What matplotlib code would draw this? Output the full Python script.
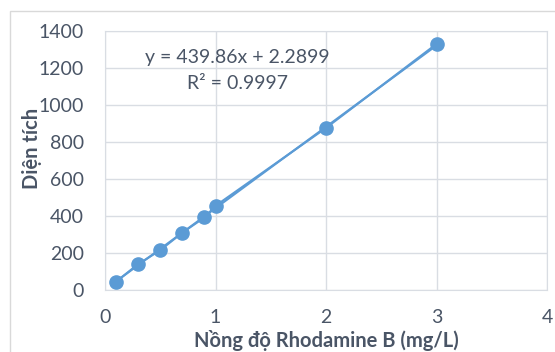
import numpy as np
import matplotlib.pyplot as plt
from matplotlib.patches import Rectangle

# calibration data: Rhodamine B concentration (mg/L) vs peak area
conc = [0.1, 0.3, 0.5, 0.7, 0.9, 1.0, 2.0, 3.0]
area = [45, 140, 215, 310, 392, 455, 876, 1330]

slope = 439.86
intercept = 2.2899
r2 = 0.9997

xticks = [0, 1, 2, 3, 4]
yticks = [0, 200, 400, 600, 800, 1000, 1200, 1400]

text_color = '#4a5566'
blue = '#5b9bd5'
plt.rcParams['font.family'] = ['Lato', 'Open Sans', 'DejaVu Sans']

fig = plt.figure(figsize=(5.55, 3.52), dpi=100)
# chart frame
fig.patches.append(Rectangle((10 / 555, -0.1), 1.2, 1 - 11 / 352 + 0.1,
                             transform=fig.transFigure, fill=False,
                             edgecolor='#d9d9d9', linewidth=1))
ax = fig.add_axes([105 / 555, 1 - 290 / 352, 442 / 555, 259 / 352])

ax.plot(conc, area, color=blue, linewidth=1.5, marker='o', markersize=9.5,
        markerfacecolor=blue, markeredgecolor=blue, zorder=3)
xfit = np.array([conc[0], conc[-1]])
ax.plot(xfit, slope * xfit + intercept, color=blue, linewidth=1.5, zorder=2)

ax.set_xlim(0, 4)
ax.set_ylim(0, 1400)
ax.set_xticks(xticks)
ax.set_yticks(yticks)
ax.grid(True, color='#d9dde3', linewidth=1)
ax.set_axisbelow(True)
for s in ax.spines.values():
    s.set_color('#d9dde3')
ax.tick_params(length=0, labelsize=14, colors=text_color)
ax.tick_params(axis='x', pad=14)
ax.tick_params(axis='y', pad=15)

ax.set_xlabel('Nồng độ Rhodamine B (mg/L)', fontsize=14.5, fontweight='bold',
              color=text_color, va='center')
ax.xaxis.set_label_coords(0.5, -0.195)
ax.set_ylabel('Diện tích', fontsize=14.5, fontweight='bold', color=text_color,
              va='center')
ax.yaxis.set_label_coords(-0.165, 0.545)

ax.text(1.2, 1255, f'y = {slope}x + {intercept}', fontsize=14,
        color=text_color, ha='center', va='center')
ax.text(1.2, 1115, f'R² = {r2}', fontsize=14, color=text_color,
        ha='center', va='center')

fig.savefig('out.png', dpi=100)
